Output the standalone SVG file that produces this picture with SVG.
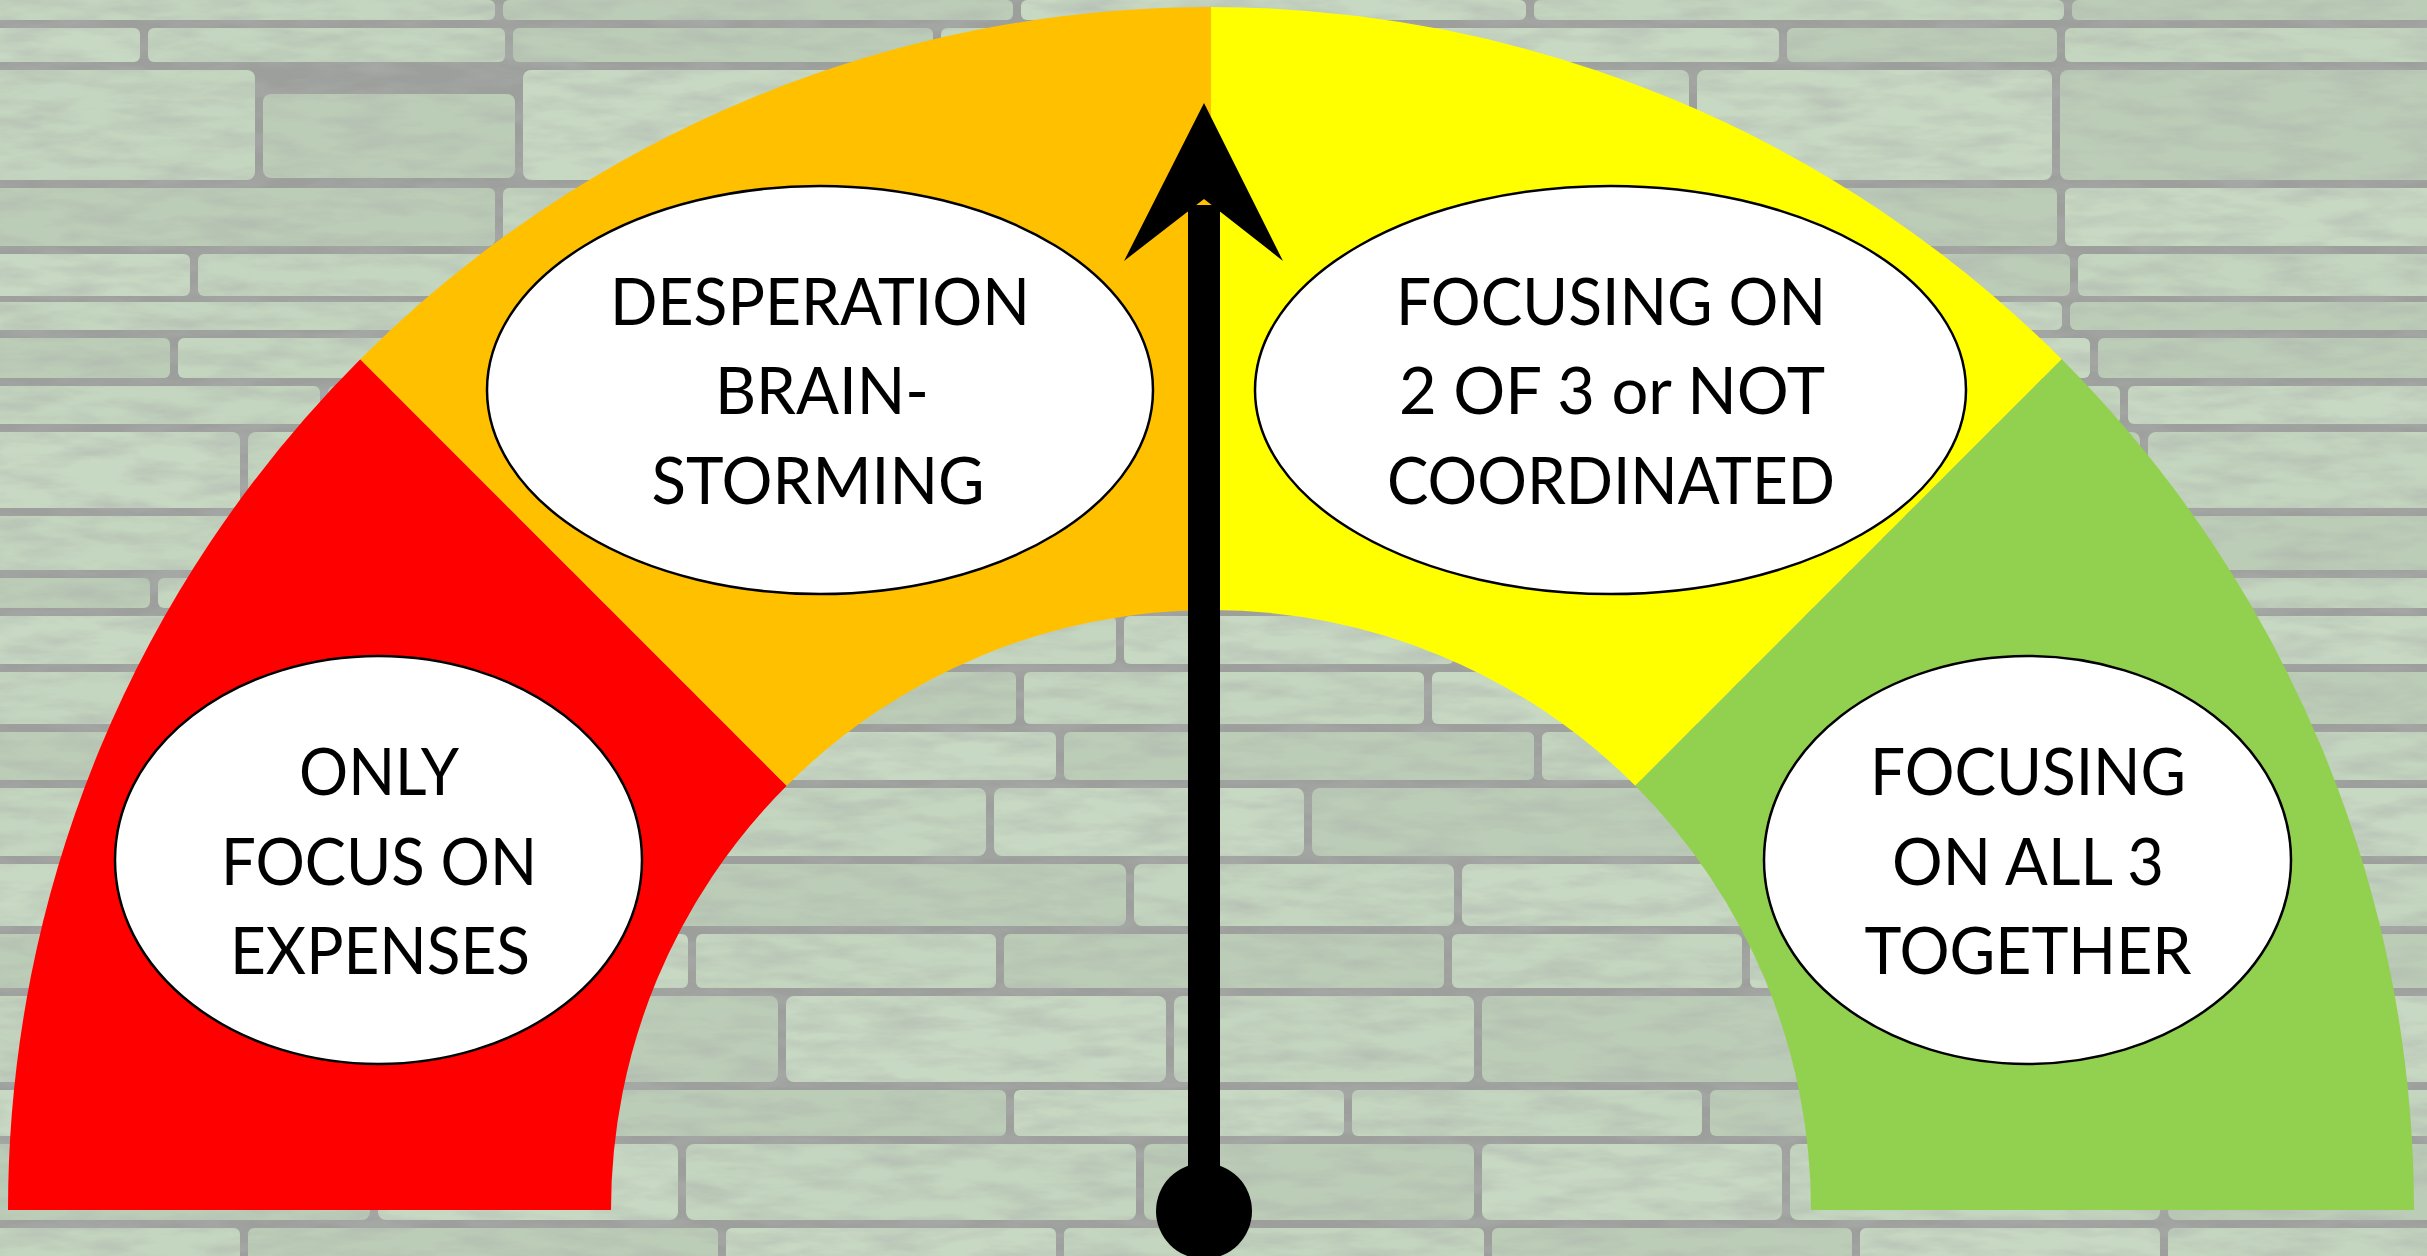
<svg xmlns="http://www.w3.org/2000/svg" width="2427" height="1256" viewBox="0 0 2427 1256">
<defs>
<filter id="grain" x="0" y="0" width="100%" height="100%" filterUnits="userSpaceOnUse">
<feTurbulence type="fractalNoise" baseFrequency="0.015 0.06" numOctaves="4" seed="7"/>
<feColorMatrix type="matrix" values="0 0 0 0 0.42  0 0 0 0 0.45  0 0 0 0 0.42  1.1 0 0 0 -0.4"/>
</filter>
</defs>
<style>
.mortar{fill:#9d9f9c}
.s1{fill:#c4d6bf}
.s2{fill:#bccdb7}
.s3{fill:#c8d9c3}
.seg{stroke:none}
.bubble{fill:#ffffff;stroke:#000000;stroke-width:2.5}
.lbl{font-family:Lato,"Open Sans","Liberation Sans",sans-serif;font-size:66px;fill:#000000;text-anchor:middle}
</style>
<g id="background">
<rect class="mortar" x="0" y="0" width="2427" height="1256"/>
<g>
<rect class="s1" x="-10" y="0" width="505" height="20" rx="6"/><rect class="s2" x="503" y="0" width="510" height="20" rx="6"/><rect class="s3" x="1021" y="0" width="505" height="20" rx="6"/><rect class="s1" x="1534" y="0" width="530" height="20" rx="6"/><rect class="s2" x="2072" y="0" width="365" height="20" rx="6"/>
<rect class="s3" x="-10" y="28" width="150" height="34" rx="6"/><rect class="s1" x="148" y="28" width="357" height="34" rx="6"/><rect class="s2" x="513" y="28" width="420" height="34" rx="6"/><rect class="s1" x="941" y="28" width="380" height="34" rx="6"/><rect class="s3" x="1329" y="28" width="450" height="34" rx="6"/><rect class="s2" x="1787" y="28" width="270" height="34" rx="6"/><rect class="s1" x="2065" y="28" width="372" height="34" rx="6"/>
<rect class="s1" x="-10" y="70" width="265" height="110" rx="8"/><rect class="s2" x="263" y="94" width="252" height="84" rx="8"/><rect class="s3" x="523" y="70" width="380" height="110" rx="8"/><rect class="s2" x="911" y="70" width="470" height="110" rx="8"/><rect class="s1" x="1389" y="70" width="300" height="110" rx="8"/><rect class="s3" x="1697" y="70" width="355" height="110" rx="8"/><rect class="s2" x="2060" y="70" width="377" height="110" rx="8"/>
<rect class="s2" x="-10" y="188" width="505" height="58" rx="6"/><rect class="s1" x="503" y="188" width="300" height="58" rx="6"/><rect class="s3" x="811" y="188" width="520" height="58" rx="6"/><rect class="s1" x="1339" y="188" width="410" height="58" rx="6"/><rect class="s2" x="1757" y="188" width="300" height="58" rx="6"/><rect class="s3" x="2065" y="188" width="372" height="58" rx="6"/>
<rect class="s3" x="-10" y="254" width="200" height="42" rx="6"/><rect class="s1" x="198" y="254" width="400" height="42" rx="6"/><rect class="s2" x="606" y="254" width="350" height="42" rx="6"/><rect class="s3" x="964" y="254" width="480" height="42" rx="6"/><rect class="s1" x="1452" y="254" width="360" height="42" rx="6"/><rect class="s2" x="1820" y="254" width="250" height="42" rx="6"/><rect class="s1" x="2078" y="254" width="360" height="42" rx="6"/>
<rect class="s1" x="-10" y="302" width="540" height="28" rx="6"/><rect class="s3" x="538" y="302" width="330" height="28" rx="6"/><rect class="s2" x="876" y="302" width="450" height="28" rx="6"/><rect class="s1" x="1334" y="302" width="300" height="28" rx="6"/><rect class="s3" x="1642" y="302" width="420" height="28" rx="6"/><rect class="s2" x="2070" y="302" width="367" height="28" rx="6"/>
<rect class="s2" x="-10" y="338" width="180" height="40" rx="6"/><rect class="s1" x="178" y="338" width="370" height="40" rx="6"/><rect class="s3" x="556" y="338" width="410" height="40" rx="6"/><rect class="s2" x="974" y="338" width="320" height="40" rx="6"/><rect class="s1" x="1302" y="338" width="480" height="40" rx="6"/><rect class="s3" x="1790" y="338" width="300" height="40" rx="6"/><rect class="s2" x="2098" y="338" width="340" height="40" rx="6"/>
<rect class="s1" x="-10" y="386" width="330" height="38" rx="6"/><rect class="s2" x="328" y="386" width="420" height="38" rx="6"/><rect class="s1" x="756" y="386" width="300" height="38" rx="6"/><rect class="s3" x="1064" y="386" width="460" height="38" rx="6"/><rect class="s2" x="1532" y="386" width="330" height="38" rx="6"/><rect class="s1" x="1870" y="386" width="250" height="38" rx="6"/><rect class="s3" x="2128" y="386" width="310" height="38" rx="6"/>
<rect class="s3" x="-10" y="432" width="250" height="76" rx="8"/><rect class="s1" x="248" y="432" width="350" height="76" rx="8"/><rect class="s2" x="606" y="432" width="430" height="76" rx="8"/><rect class="s1" x="1044" y="432" width="300" height="76" rx="8"/><rect class="s3" x="1352" y="432" width="420" height="76" rx="8"/><rect class="s2" x="1780" y="432" width="360" height="76" rx="8"/><rect class="s1" x="2148" y="432" width="290" height="76" rx="8"/>
<rect class="s1" x="-10" y="516" width="420" height="54" rx="6"/><rect class="s3" x="418" y="516" width="300" height="54" rx="6"/><rect class="s1" x="726" y="516" width="460" height="54" rx="6"/><rect class="s2" x="1194" y="516" width="350" height="54" rx="6"/><rect class="s1" x="1552" y="516" width="330" height="54" rx="6"/><rect class="s3" x="1890" y="516" width="290" height="54" rx="6"/><rect class="s2" x="2188" y="516" width="250" height="54" rx="6"/>
<rect class="s2" x="-10" y="578" width="160" height="30" rx="6"/><rect class="s1" x="158" y="578" width="420" height="30" rx="6"/><rect class="s3" x="586" y="578" width="350" height="30" rx="6"/><rect class="s1" x="944" y="578" width="430" height="30" rx="6"/><rect class="s2" x="1382" y="578" width="380" height="30" rx="6"/><rect class="s3" x="1770" y="578" width="300" height="30" rx="6"/><rect class="s1" x="2078" y="578" width="360" height="30" rx="6"/>
<rect class="s3" x="-10" y="616" width="370" height="48" rx="6"/><rect class="s2" x="368" y="616" width="300" height="48" rx="6"/><rect class="s1" x="676" y="616" width="440" height="48" rx="6"/><rect class="s3" x="1124" y="616" width="330" height="48" rx="6"/><rect class="s1" x="1462" y="616" width="420" height="48" rx="6"/><rect class="s2" x="1890" y="616" width="240" height="48" rx="6"/><rect class="s3" x="2138" y="616" width="300" height="48" rx="6"/>
<rect class="s1" x="-10" y="672" width="230" height="52" rx="6"/><rect class="s3" x="228" y="672" width="460" height="52" rx="6"/><rect class="s2" x="696" y="672" width="320" height="52" rx="6"/><rect class="s1" x="1024" y="672" width="400" height="52" rx="6"/><rect class="s3" x="1432" y="672" width="300" height="52" rx="6"/><rect class="s1" x="1740" y="672" width="430" height="52" rx="6"/><rect class="s2" x="2178" y="672" width="260" height="52" rx="6"/>
<rect class="s2" x="-10" y="732" width="410" height="48" rx="6"/><rect class="s1" x="408" y="732" width="350" height="48" rx="6"/><rect class="s3" x="766" y="732" width="290" height="48" rx="6"/><rect class="s2" x="1064" y="732" width="470" height="48" rx="6"/><rect class="s1" x="1542" y="732" width="330" height="48" rx="6"/><rect class="s3" x="1880" y="732" width="320" height="48" rx="6"/><rect class="s1" x="2208" y="732" width="230" height="48" rx="6"/>
<rect class="s1" x="-10" y="788" width="190" height="68" rx="8"/><rect class="s2" x="188" y="788" width="410" height="68" rx="8"/><rect class="s1" x="606" y="788" width="380" height="68" rx="8"/><rect class="s3" x="994" y="788" width="310" height="68" rx="8"/><rect class="s2" x="1312" y="788" width="460" height="68" rx="8"/><rect class="s1" x="1780" y="788" width="290" height="68" rx="8"/><rect class="s3" x="2078" y="788" width="360" height="68" rx="8"/>
<rect class="s3" x="-10" y="864" width="350" height="62" rx="8"/><rect class="s1" x="348" y="864" width="300" height="62" rx="8"/><rect class="s2" x="656" y="864" width="470" height="62" rx="8"/><rect class="s1" x="1134" y="864" width="320" height="62" rx="8"/><rect class="s3" x="1462" y="864" width="400" height="62" rx="8"/><rect class="s2" x="1870" y="864" width="330" height="62" rx="8"/><rect class="s1" x="2208" y="864" width="230" height="62" rx="8"/>
<rect class="s2" x="-10" y="934" width="270" height="54" rx="6"/><rect class="s3" x="268" y="934" width="420" height="54" rx="6"/><rect class="s1" x="696" y="934" width="300" height="54" rx="6"/><rect class="s2" x="1004" y="934" width="440" height="54" rx="6"/><rect class="s1" x="1452" y="934" width="290" height="54" rx="6"/><rect class="s3" x="1750" y="934" width="380" height="54" rx="6"/><rect class="s2" x="2138" y="934" width="300" height="54" rx="6"/>
<rect class="s1" x="-10" y="996" width="460" height="86" rx="8"/><rect class="s2" x="458" y="996" width="320" height="86" rx="8"/><rect class="s3" x="786" y="996" width="380" height="86" rx="8"/><rect class="s1" x="1174" y="996" width="300" height="86" rx="8"/><rect class="s2" x="1482" y="996" width="440" height="86" rx="8"/><rect class="s1" x="1930" y="996" width="250" height="86" rx="8"/><rect class="s3" x="2188" y="996" width="250" height="86" rx="8"/>
<rect class="s3" x="-10" y="1090" width="200" height="46" rx="6"/><rect class="s1" x="198" y="1090" width="380" height="46" rx="6"/><rect class="s2" x="586" y="1090" width="420" height="46" rx="6"/><rect class="s3" x="1014" y="1090" width="330" height="46" rx="6"/><rect class="s1" x="1352" y="1090" width="350" height="46" rx="6"/><rect class="s2" x="1710" y="1090" width="440" height="46" rx="6"/><rect class="s1" x="2158" y="1090" width="280" height="46" rx="6"/>
<rect class="s2" x="-10" y="1144" width="380" height="76" rx="8"/><rect class="s3" x="378" y="1144" width="300" height="76" rx="8"/><rect class="s1" x="686" y="1144" width="450" height="76" rx="8"/><rect class="s2" x="1144" y="1144" width="330" height="76" rx="8"/><rect class="s3" x="1482" y="1144" width="300" height="76" rx="8"/><rect class="s1" x="1790" y="1144" width="370" height="76" rx="8"/><rect class="s2" x="2168" y="1144" width="270" height="76" rx="8"/>
<rect class="s1" x="-10" y="1228" width="250" height="40" rx="6"/><rect class="s2" x="248" y="1228" width="470" height="40" rx="6"/><rect class="s3" x="726" y="1228" width="330" height="40" rx="6"/><rect class="s1" x="1064" y="1228" width="420" height="40" rx="6"/><rect class="s2" x="1492" y="1228" width="360" height="40" rx="6"/><rect class="s3" x="1860" y="1228" width="300" height="40" rx="6"/><rect class="s1" x="2168" y="1228" width="270" height="40" rx="6"/>
</g>
<rect x="0" y="0" width="2427" height="1256" filter="url(#grain)"/>
</g>
<g id="gauge">
<path id="seg-red" class="seg" fill="#FF0000" d="M8,1210 A1203,1203 0 0 1 360.3,359.3 L786.7,785.7 A600,600 0 0 0 611,1210 Z"/>
<path id="seg-orange" class="seg" fill="#FFC000" d="M360.3,359.3 A1203,1203 0 0 1 1211,7 L1211,610 A600,600 0 0 0 786.7,785.7 Z"/>
<path id="seg-yellow" class="seg" fill="#FFFF00" d="M1211,7 A1203,1203 0 0 1 2061.7,359.3 L1635.3,785.7 A600,600 0 0 0 1211,610 Z"/>
<path id="seg-green" class="seg" fill="#92D050" d="M2061.7,359.3 A1203,1203 0 0 1 2414,1210 L1811,1210 A600,600 0 0 0 1635.3,785.7 Z"/>
</g>
<g id="node-expenses">
<ellipse class="bubble" cx="378.5" cy="860" rx="263.5" ry="204"/>
<text class="lbl" x="379" y="795" textLength="160" lengthAdjust="spacingAndGlyphs">ONLY</text>
<text class="lbl" x="379" y="885" textLength="316" lengthAdjust="spacingAndGlyphs">FOCUS ON</text>
<text class="lbl" x="380" y="974" textLength="300" lengthAdjust="spacingAndGlyphs">EXPENSES</text>
</g>
<g id="node-desperation">
<ellipse class="bubble" cx="820" cy="390" rx="333" ry="204"/>
<text class="lbl" x="820" y="325" textLength="420" lengthAdjust="spacingAndGlyphs">DESPERATION</text>
<text class="lbl" x="822" y="414" textLength="214" lengthAdjust="spacingAndGlyphs">BRAIN-</text>
<text class="lbl" x="818" y="504" textLength="333" lengthAdjust="spacingAndGlyphs">STORMING</text>
</g>
<g id="node-two-of-three">
<ellipse class="bubble" cx="1610.5" cy="390" rx="355.5" ry="204"/>
<text class="lbl" x="1611" y="325" textLength="430" lengthAdjust="spacingAndGlyphs">FOCUSING ON</text>
<text class="lbl" x="1612" y="414" textLength="426" lengthAdjust="spacingAndGlyphs">2 OF 3 or NOT</text>
<text class="lbl" x="1611" y="504" textLength="448" lengthAdjust="spacingAndGlyphs">COORDINATED</text>
</g>
<g id="node-all-three">
<ellipse class="bubble" cx="2027.5" cy="860" rx="263.5" ry="204"/>
<text class="lbl" x="2028" y="795" textLength="316" lengthAdjust="spacingAndGlyphs">FOCUSING</text>
<text class="lbl" x="2028" y="885" textLength="272" lengthAdjust="spacingAndGlyphs">ON ALL 3</text>
<text class="lbl" x="2028" y="974" textLength="327" lengthAdjust="spacingAndGlyphs">TOGETHER</text>
</g>
<g id="needle" fill="#000000">
<rect x="1188" y="205" width="32" height="1006"/>
<polygon points="1204,103 1283,261 1204,199 1124,261"/>
<circle cx="1204" cy="1211" r="48"/>
</g>
</svg>
